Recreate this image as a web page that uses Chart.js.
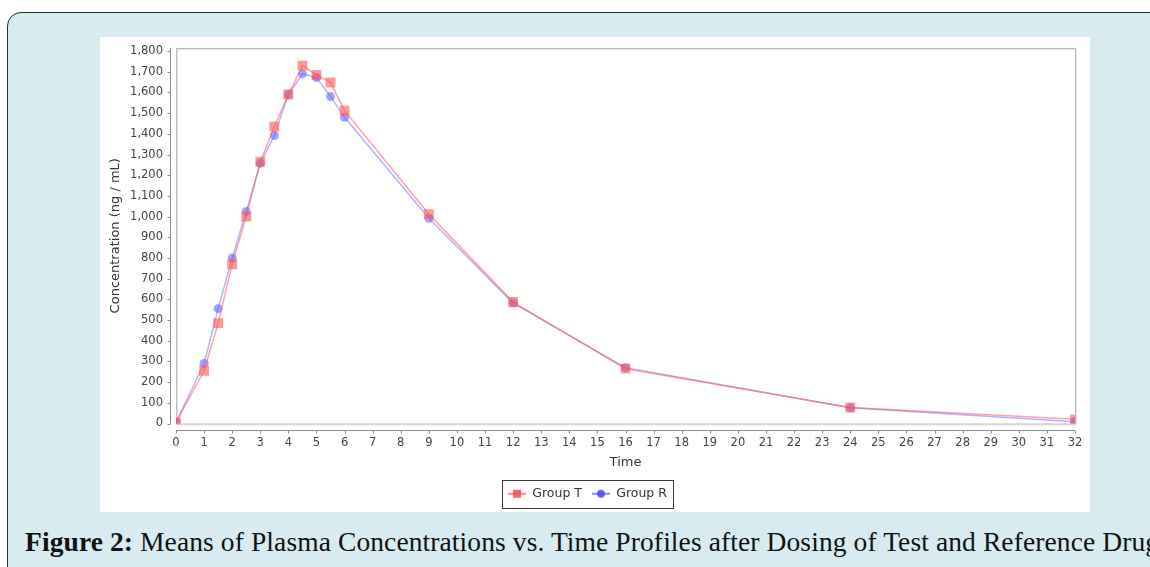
<!DOCTYPE html>
<html>
<head>
<meta charset="utf-8">
<script src="https://cdn.jsdelivr.net/npm/chart.js@4"></script>
<style>
  html, body { margin: 0; padding: 0; background: #fff; overflow: hidden; }
  body { width: 1150px; height: 567px; position: relative; }
  #box {
    position: absolute; left: 7px; top: 12px; width: 1180px; height: 600px;
    background: #d7ebf0; border: 1.5px solid #2b2b2b; border-radius: 14px;
    box-sizing: border-box;
  }
  #panel {
    position: absolute; left: 100px; top: 37px; width: 990px; height: 475px; background: #fff;
  }
  #caption {
    position: absolute; left: 25px; top: 526px; white-space: nowrap; line-height: 31px;
    font-family: "Liberation Serif", serif; font-size: 27.5px; letter-spacing: 0.1px; color: #111;
  }
  #caption b { font-weight: bold; }
</style>
</head>
<body>
<div id="box"></div>
<div id="panel"><canvas id="pk" width="990" height="475"></canvas></div>
<div id="caption"><b>Figure 2:</b> Means of Plasma Concentrations vs. Time Profiles after Dosing of Test and Reference Drug</div>
<script>
// sampling times (h)
var times = [0, 1, 1.5, 2, 2.5, 3, 3.5, 4, 4.5, 5, 5.5, 6, 9, 12, 16, 24, 32];
// mean concentrations (ng/mL)
var groupT = [5, 255, 485, 770, 1000, 1265, 1435, 1590, 1730, 1685, 1648, 1512, 1012, 587, 265, 77, 20];
var groupR = [5, 290, 555, 800, 1025, 1258, 1392, 1590, 1690, 1672, 1580, 1480, 992, 582, 270, 76, 8];
var seriesNames = ['Group T', 'Group R'];
var yTickValues = [0, 100, 200, 300, 400, 500, 600, 700, 800, 900, 1000, 1100, 1200, 1300, 1400, 1500, 1600, 1700, 1800];

var redLine = 'rgba(255, 85, 85, 0.55)';
var redFill = 'rgba(255, 85, 85, 0.6)';
var blueLine = 'rgba(85, 85, 255, 0.45)';
var blueFill = 'rgba(85, 85, 255, 0.55)';

function pairs(ys) {
    return times.map(function(t, i) { return {x: t, y: ys[i]}; });
}

// little legend glyph: line with the marker on it
function legendGlyph(color, shape) {
    var c = document.createElement('canvas');
    c.width = 18; c.height = 10;
    var g = c.getContext('2d');
    g.strokeStyle = color; g.lineWidth = 1.5;
    g.beginPath(); g.moveTo(0, 5); g.lineTo(18, 5); g.stroke();
    g.fillStyle = color;
    if (shape == 'rect') {
        g.fillRect(5, 1, 8, 8);
    } else {
        g.beginPath(); g.arc(9, 5, 4, 0, Math.PI * 2); g.fill();
    }
    return c;
}

var framePlugin = {
    id: 'frame',
    beforeDatasetsDraw: function(chart) {
        var a = chart.chartArea, ctx = chart.ctx;
        ctx.save();
        ctx.strokeStyle = '#e4e4e4'; ctx.lineWidth = 1;
        ctx.strokeRect(a.left + 1.5, a.top + 1.5, a.right - a.left, a.bottom - a.top);
        ctx.strokeStyle = '#bcbcbc';
        ctx.strokeRect(a.left + 0.5, a.top + 0.5, a.right - a.left, a.bottom - a.top);
        // axes sit a few px away from the plot, like the original
        var ys = chart.scales.y, xs = chart.scales.x;
        ctx.strokeStyle = '#8a8a8a';
        var ax = Math.round(a.left - 6) + 0.5;
        ctx.beginPath(); ctx.moveTo(ax, a.top); ctx.lineTo(ax, a.bottom); ctx.stroke();
        ys.ticks.forEach(function(t) {
            var py = Math.round(ys.getPixelForValue(t.value)) + 0.5;
            ctx.beginPath(); ctx.moveTo(ax - 3, py); ctx.lineTo(ax, py); ctx.stroke();
        });
        var ay = Math.round(a.bottom + 6) + 0.5;
        ctx.beginPath(); ctx.moveTo(a.left, ay); ctx.lineTo(a.right, ay); ctx.stroke();
        xs.ticks.forEach(function(t) {
            var px = Math.round(xs.getPixelForValue(t.value)) + 0.5;
            ctx.beginPath(); ctx.moveTo(px, ay); ctx.lineTo(px, ay + 3); ctx.stroke();
        });
        ctx.restore();
    },
    afterDraw: function(chart) {
        var lg = chart.legend;
        if (!lg || !lg.legendHitBoxes.length) return;
        var l = Infinity, t = Infinity, r = -Infinity, b = -Infinity;
        lg.legendHitBoxes.forEach(function(h) {
            l = Math.min(l, h.left); t = Math.min(t, h.top);
            r = Math.max(r, h.left + h.width); b = Math.max(b, h.top + h.height);
        });
        var ctx = chart.ctx;
        ctx.save();
        ctx.strokeStyle = '#3a3a3a'; ctx.lineWidth = 1;
        ctx.strokeRect(Math.round(l - 6) + 0.5, Math.round(t - 8) + 0.5, Math.round(r - l + 12), Math.round(b - t + 15));
        ctx.restore();
    }
};

new Chart(document.getElementById('pk').getContext('2d'), {
    type: 'line',
    data: {
        datasets: [{
            label: seriesNames[0],
            data: pairs(groupT),
            borderColor: redLine,
            borderWidth: 1.5,
            backgroundColor: redFill,
            pointStyle: 'rect',
            pointRadius: 7,
            pointBorderWidth: 0,
            tension: 0
        }, {
            label: seriesNames[1],
            data: pairs(groupR),
            borderColor: blueLine,
            borderWidth: 1.5,
            backgroundColor: blueFill,
            pointStyle: 'circle',
            pointRadius: 4.5,
            pointBorderWidth: 0,
            tension: 0
        }]
    },
    options: {
        responsive: false,
        animation: false,
        layout: {padding: {top: 11, right: 15, left: 0, bottom: 2}},
        plugins: {
            tooltip: {enabled: false},
            legend: {
                position: 'bottom',
                labels: {
                    usePointStyle: true,
                    pointStyleWidth: 18,
                    padding: 10,
                    color: '#333',
                    font: {family: 'DejaVu Sans', size: 12.5},
                    generateLabels: function(chart) {
                        return chart.data.datasets.map(function(ds, i) {
                            return {
                                text: ds.label,
                                pointStyle: legendGlyph(i == 0 ? 'rgba(255,70,70,0.85)' : 'rgba(70,70,255,0.85)', ds.pointStyle),
                                fillStyle: ds.backgroundColor,
                                strokeStyle: ds.borderColor,
                                lineWidth: 0,
                                fontColor: '#333',
                                datasetIndex: i
                            };
                        });
                    }
                }
            }
        },
        scales: {
            x: {
                type: 'linear',
                min: 0,
                max: 32,
                grid: {display: false, drawTicks: false},
                border: {display: false},
                afterFit: function(scale) {
                    scale.height = 54;
                    scale.paddingLeft = 0; scale.paddingRight = 0;
                },
                ticks: {
                    stepSize: 1, autoSkip: false, maxRotation: 0, padding: 13,
                    color: '#444', font: {family: 'DejaVu Sans', size: 11.5}
                },
                title: {
                    display: true, text: 'Time', color: '#333',
                    font: {family: 'DejaVu Sans', size: 13},
                    padding: {top: 0, bottom: 7}
                }
            },
            y: {
                min: 0,
                max: 1815,
                grid: {display: false, drawTicks: false},
                border: {display: false},
                afterBuildTicks: function(scale) {
                    scale.ticks = yTickValues.map(function(v) { return {value: v}; });
                },
                afterFit: function(scale) {
                    scale.width = 76;
                    scale.paddingTop = 0; scale.paddingBottom = 0;
                },
                ticks: {
                    padding: 13,
                    color: '#444', font: {family: 'DejaVu Sans', size: 11.5},
                    callback: function(v) { return v.toLocaleString('en-US'); }
                },
                title: {
                    display: true, text: 'Concentration (ng / mL)', color: '#333',
                    font: {family: 'DejaVu Sans', size: 13},
                    padding: {top: 8, bottom: 0}
                }
            }
        }
    },
    plugins: [framePlugin]
});
</script>
</body>
</html>
